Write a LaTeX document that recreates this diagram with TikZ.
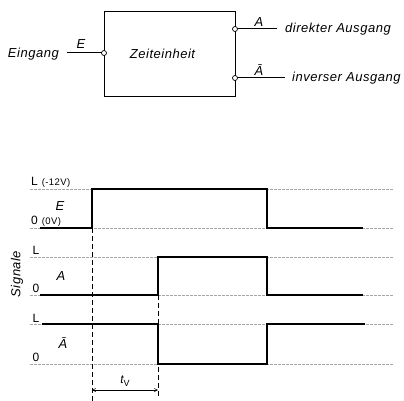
\documentclass[tikz,border=0pt]{standalone}
\usepackage{fontspec}
\setmainfont{Liberation Sans}[LetterSpace=4]
\usetikzlibrary{arrows.meta}
\begin{document}
\begin{tikzpicture}[x=1pt,y=-1pt,
  lbl/.style={font=\fontsize{13}{15}\selectfont\itshape, inner sep=0pt},
  tlbl/.style={font=\fontsize{12}{14}\selectfont, inner sep=0pt},
  wire/.style={line width=1pt},
  pin/.style={circle, draw, line width=0.7pt, fill=white, minimum size=5pt, inner sep=0pt},
  sig/.style={line width=1.7pt, line join=miter},
  ref/.style={line width=0.45pt, gray!70, dash pattern=on 3pt off 1pt},
  vdash/.style={line width=0.6pt, dash pattern=on 5pt off 3pt}]
\useasboundingbox (0,0) rectangle (404,401);
% block diagram
\node[draw, line width=1pt, minimum width=131pt, minimum height=85pt, inner sep=0pt] (zeit) at (169.5,54.5) {};
\node[lbl] (zt) at (162.5,54) {Zeiteinheit};
\coordinate (ein) at (67,53);
\coordinate (aend) at (277,29);
\coordinate (abend) at (285,78);
\draw[wire] (ein) -- (104,53);
\draw[wire] (235,29) -- (aend);
\draw[wire] (235,78) -- (abend);
\node[pin] (cin) at (104,53) {};
\node[pin] (ca) at (235,29) {};
\node[pin] (cab) at (235,78) {};
\node[lbl, anchor=east] (eing) at (59,54) {Eingang};
\node[lbl] (lE) at (81,44) {E};
\node[lbl] (lA) at (259,22) {A};
\node[lbl] (lAb) at (259,70) {Ā};
\node[lbl, anchor=west] (dir) at (285,29) {direkter Ausgang};
\node[lbl, anchor=west] (inv) at (292,78) {inverser Ausgang};
% reference lines
\foreach \yy in {189,228,257,295,324,364} \draw[ref] (30,\yy) -- (393,\yy);
% dashed verticals
\draw[vdash] (92,228) -- (92,401);
\draw[vdash] (158,295) -- (158,398);
% signals
\draw[sig] (40,228) -- (92,228) -- (92,189) -- (267,189) -- (267,228) -- (363,228);
\draw[sig] (40,295) -- (158,295) -- (158,257) -- (267,257) -- (267,295) -- (363,295);
\draw[sig] (42,324) -- (158,324) -- (158,364) -- (267,364) -- (267,324) -- (365,324);
% signal labels
\node[tlbl, anchor=west] (sL1) at (31,182) {L\,\,{\fontsize{9.5}{11}\selectfont(-12V)}};
\node[tlbl, font=\fontsize{13}{15}\selectfont\itshape] (sE) at (60,206) {E};
\node[tlbl, anchor=west] (s01) at (31,221) {0\,\,{\fontsize{9.5}{11}\selectfont(0V)}};
\node[tlbl] (sL2) at (36,250) {L};
\node[tlbl, font=\fontsize{13}{15}\selectfont\itshape] (sA) at (61,276) {A};
\node[tlbl] (s02) at (36,288) {0};
\node[tlbl] (sL3) at (36,318) {L};
\node[tlbl, font=\fontsize{13}{15}\selectfont\itshape] (sAb) at (63,343) {Ā};
\node[tlbl] (s03) at (36,357) {0};
\node[lbl, rotate=90] (sig) at (17,274) {Signale};
% t_v dimension
\coordinate (t1) at (92,390);
\coordinate (t2) at (158,390);
\draw[line width=0.6pt, {Straight Barb[length=3pt,width=3pt]}-{Straight Barb[length=3pt,width=3pt]}] (t1) -- (t2);
\node[tlbl] (tv) at (125,381) {{\itshape t}\raisebox{-2.5pt}{\fontsize{9}{10}\selectfont V}};
\end{tikzpicture}
\end{document}
